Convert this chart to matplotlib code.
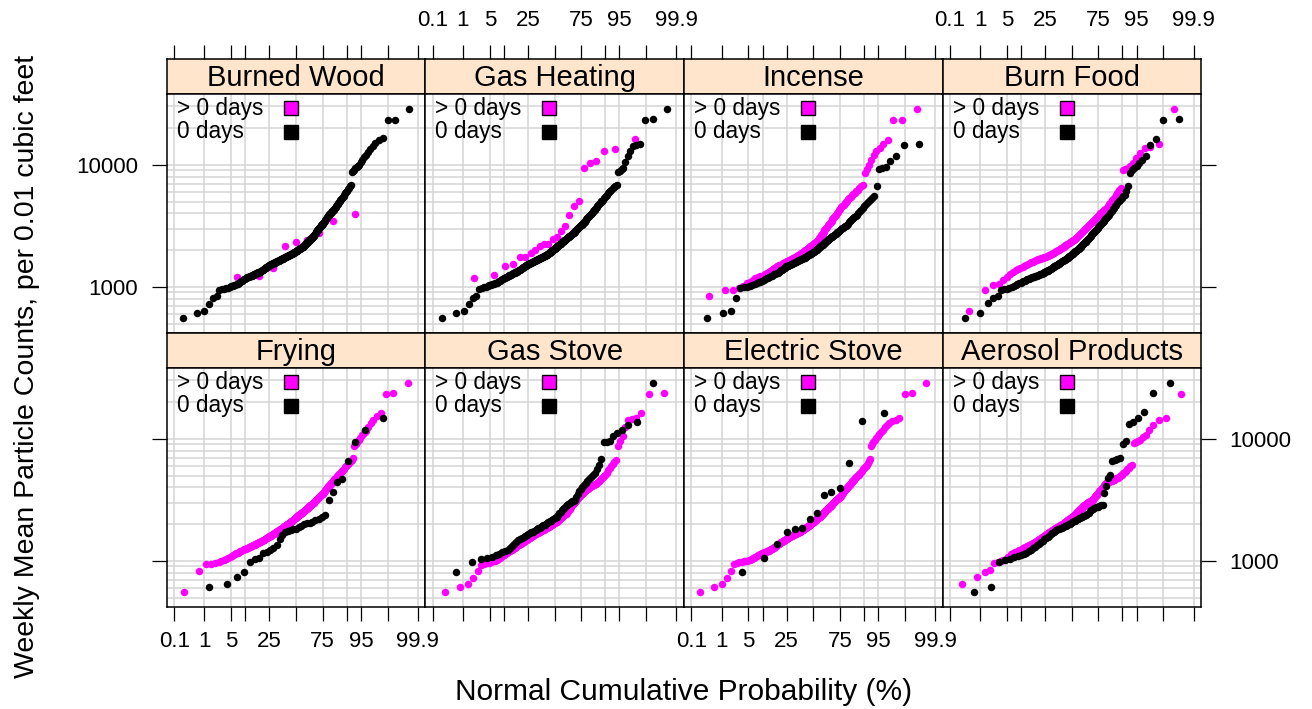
import numpy as np
import matplotlib
matplotlib.use('Agg')
import matplotlib.pyplot as plt
from statistics import NormalDist

plt.rcParams['font.family'] = ['Liberation Sans', 'DejaVu Sans']

# Panel titles (top row first, left to right)
sources = ['Burned Wood', 'Gas Heating', 'Incense', 'Burn Food',
           'Frying', 'Gas Stove', 'Electric Stove', 'Aerosol Products']
group_labels = ['> 0 days', '0 days']

# Probability axis ticks (%)
prob_ticks = [0.1, 1, 5, 10, 25, 50, 75, 90, 95, 99, 99.9]
prob_labels = ['0.1', '1', '5', '', '25', '', '75', '', '95', '', '99.9']

# Weekly mean particle counts, sorted, per source and group
wood_pos = [1200, 1230, 1439, 2168, 2339, 2400, 2754, 3434, 3963]
wood_zero = [561, 616, 640, 726, 807, 844, 944, 955, 965, 975,
             986, 997, 1008, 1019, 1030, 1041, 1052,
             1066, 1080, 1095, 1109, 1123, 1137, 1152, 1166, 1180, 1194,
             1201, 1209, 1216, 1224, 1231, 1239, 1246, 1254, 1261, 1269, 1276, 1284, 1291, 1299, 1306, 1314, 1321, 1329, 1336,
             1346, 1356, 1366, 1376, 1385, 1395, 1405, 1415, 1425, 1435, 1445, 1455, 1465, 1474, 1484, 1494, 1504, 1514,
             1521, 1528, 1534, 1541, 1548, 1555, 1562, 1568, 1575, 1582, 1589, 1596, 1603, 1609, 1616, 1623, 1630, 1637, 1643, 1650, 1657, 1664,
             1671, 1678, 1685, 1692, 1699, 1706, 1713, 1720, 1727, 1734, 1741, 1748, 1755, 1762, 1769, 1776, 1783, 1790, 1797, 1804,
             1811, 1818, 1825, 1832, 1839, 1846, 1853, 1860, 1867, 1874, 1881, 1888,
             1898, 1908, 1917, 1927, 1937, 1947, 1957, 1966, 1976, 1986, 1996, 2005, 2015, 2025, 2035, 2045, 2054, 2064, 2074, 2084,
             2093, 2103, 2113, 2123, 2132, 2142,
             2161, 2179, 2198, 2216, 2235, 2254, 2272, 2291, 2310, 2328, 2347, 2365, 2384, 2403, 2421, 2440, 2458, 2477, 2496, 2514,
             2533, 2551, 2570, 2588,
             2623, 2658, 2693, 2728, 2763, 2798, 2834, 2869, 2904, 2939, 2974, 3009, 3044, 3080, 3115, 3150, 3185, 3220, 3255, 3291, 3326,
             3376, 3426, 3476, 3526, 3576, 3626, 3676, 3726, 3776, 3826, 3876, 3926, 3976, 4026, 4076, 4126, 4176, 4226, 4276,
             4363, 4450, 4538, 4625, 4712, 4800, 4887, 4974, 5061, 5149, 5236, 5323, 5411, 5498,
             5661, 5824, 5987, 6150, 6312, 6475, 6638, 6850,
             8650, 8880, 9100, 9330, 9550, 9780, 10000,
             10520, 11040, 11560, 12080, 12760, 13450, 14130, 15080, 16020, 16500,
             23080, 23300, 28780]

heat_pos = [1193, 1247, 1469, 1545, 1750, 1750, 1888, 2010, 2168, 2250, 2250, 2459,
            2553, 2843, 3125, 3890, 4613, 5010, 9390, 10320, 10650, 13030, 13530, 16230]
heat_zero = [561, 616, 640, 726, 807, 844, 957, 974, 990, 1007,
             1018, 1030, 1041, 1052, 1063, 1075, 1086,
             1099, 1112, 1125, 1138, 1151, 1164, 1177, 1190, 1203, 1216,
             1225, 1234, 1244, 1253, 1262, 1271, 1280, 1290, 1299, 1308, 1317, 1327, 1336,
             1346, 1357, 1367, 1378, 1388, 1399, 1409, 1420, 1430, 1441, 1451, 1462, 1472, 1483, 1493, 1504, 1514,
             1522, 1529, 1537, 1544, 1552, 1559, 1567, 1574, 1582, 1589, 1597, 1604, 1612, 1619, 1627, 1634, 1642, 1649, 1657, 1664,
             1671, 1679, 1686, 1694, 1701, 1709, 1716, 1724, 1731, 1738, 1746, 1753, 1761, 1768, 1776, 1783, 1791, 1798, 1806, 1813,
             1820, 1828,
             1839, 1850, 1862, 1873, 1885, 1896, 1908, 1919, 1930, 1942, 1953, 1965, 1976, 1987, 1999, 2010,
             2025, 2040, 2055, 2070, 2085, 2100, 2115, 2130, 2145, 2160, 2175, 2190, 2205, 2220, 2235, 2250, 2265, 2280, 2295, 2310,
             2325, 2340, 2354,
             2371, 2389, 2406, 2424, 2441, 2458, 2476, 2493, 2511, 2528, 2545, 2563, 2580, 2598, 2615, 2632, 2650, 2667, 2685, 2702,
             2719, 2737, 2754,
             2783, 2811, 2840, 2869, 2897, 2926, 2954, 2983, 3012, 3040, 3069, 3097, 3126, 3155, 3183, 3212, 3240, 3269, 3297, 3326,
             3377, 3428, 3479, 3530, 3581, 3632, 3683, 3734, 3785, 3836, 3887, 3938, 3989, 4040, 4091, 4143,
             4222, 4300, 4379, 4458, 4536, 4615, 4694, 4773, 4851, 4930, 5009, 5087, 5166,
             5300, 5435, 5569, 5703, 5837, 5972, 6106, 6240,
             6394, 6548, 6701, 6855,
             8650, 8900, 9150, 9390, 10500, 11700, 12900, 14130, 14500, 14860, 23370, 23640, 28600]

incense_pos = [838, 939, 945, 975, 1020, 1072, 1107, 1143, 1178,
               1197, 1217, 1236, 1255, 1275, 1294,
               1319, 1344, 1369, 1394, 1419, 1444, 1469,
               1487, 1505, 1523, 1541, 1560, 1578, 1596, 1614,
               1629, 1643, 1658, 1672, 1687, 1701, 1716, 1730, 1745, 1759, 1774,
               1795, 1817, 1838, 1860, 1881, 1903, 1924, 1946, 1967, 1989, 2010,
               2036, 2063, 2089, 2116, 2142, 2169, 2195, 2222, 2248, 2275, 2301, 2328, 2354,
               2411, 2468, 2525, 2583, 2640, 2697, 2754,
               2826, 2897, 2969, 3040, 3112, 3183, 3255, 3326,
               3407, 3487, 3568, 3648, 3729, 3809, 3890,
               4006, 4121, 4237, 4353, 4469, 4584, 4700,
               4826, 4952, 5078, 5204, 5330,
               5472, 5614, 5756, 5898, 6040,
               6244, 6448, 6651, 6855,
               8550, 9300, 10000, 11040, 12080, 12890, 13700, 14860, 16020,
               23080, 23370, 28600]
incense_zero = [561, 616, 640, 807, 975, 991, 1007,
                1023, 1040, 1056, 1072,
                1090, 1107, 1125, 1143, 1160, 1178,
                1192, 1207, 1221, 1236, 1250, 1265, 1279, 1294,
                1311, 1329, 1346, 1364, 1381, 1399, 1416, 1434, 1451, 1469,
                1481, 1493, 1505, 1517, 1529, 1542, 1554, 1566, 1578, 1590, 1602, 1614,
                1625, 1637, 1648, 1660, 1671, 1683, 1694, 1706, 1717, 1728, 1740, 1751, 1763, 1774,
                1791, 1808, 1825, 1842, 1858, 1875, 1892, 1909, 1926, 1943, 1960, 1976, 1993, 2010,
                2036, 2063, 2089, 2116, 2142, 2169, 2195, 2222, 2248, 2275, 2301, 2328, 2354,
                2385, 2416, 2446, 2477, 2508, 2539, 2569, 2600, 2631, 2662, 2692, 2723, 2754,
                2797, 2839, 2882, 2924, 2967, 3010, 3052, 3095, 3137, 3180, 3222,
                3296, 3370, 3445, 3519, 3593, 3667, 3742, 3816, 3890,
                4023, 4155, 4288, 4420, 4553,
                4742, 4931, 5120, 5309, 5498,
                6638, 9300, 9400, 9500, 10650, 11700, 14590, 14860]

food_pos = [640, 944, 1038, 1060, 1140, 1216, 1270, 1324, 1378,
            1405, 1432, 1460, 1487, 1514,
            1539, 1564, 1589, 1614, 1639, 1664,
            1676, 1688, 1701, 1713, 1725, 1737, 1750, 1762, 1774,
            1793, 1813, 1832, 1852, 1871, 1891, 1910, 1930, 1949,
            1973, 1997, 2020, 2044, 2068, 2092, 2115, 2139, 2163, 2186, 2210,
            2237, 2264, 2291, 2318, 2345, 2372, 2399, 2425, 2452, 2479, 2506,
            2558, 2610, 2662, 2714, 2767, 2819, 2871, 2923, 2975, 3027,
            3090, 3153, 3216, 3278, 3341, 3404, 3467, 3529, 3592, 3655,
            3739, 3824, 3908, 3993, 4077, 4162, 4246, 4331, 4415,
            4598, 4781, 4964, 5147, 5330,
            5607, 5885, 6162, 6440,
            9000, 9200, 9390, 9850, 10320, 11400, 12500, 13700, 13950, 14860, 28600]
food_zero = [553, 616, 735, 807, 844, 944, 954, 965, 975,
             994, 1014, 1033, 1053, 1072,
             1085, 1099, 1112, 1125, 1138, 1152, 1165, 1178,
             1186, 1195, 1203, 1212, 1220, 1229, 1237, 1246, 1254,
             1264, 1275, 1285, 1295, 1306, 1316, 1326, 1337, 1347, 1357, 1368, 1378,
             1391, 1404, 1418, 1431, 1444, 1457, 1470, 1484, 1497, 1510, 1523, 1536, 1550, 1563,
             1577, 1591, 1605, 1619, 1633, 1647, 1661, 1676, 1690, 1704, 1718, 1732, 1746, 1760, 1774,
             1794, 1814, 1834, 1854, 1874, 1894, 1914, 1935, 1955, 1975, 1995, 2015, 2035, 2055, 2075,
             2106, 2137, 2167, 2198, 2229, 2260, 2291, 2321, 2352, 2383, 2414, 2444, 2475, 2506,
             2554, 2601, 2649, 2696, 2744, 2792, 2839, 2887, 2935, 2982, 3030, 3077, 3125,
             3195, 3264, 3334, 3403, 3473, 3542, 3612, 3681, 3751, 3820, 3890,
             4028, 4165, 4303, 4440, 4578, 4715, 4853,
             5017, 5182, 5346, 5511, 5675, 6100, 6640,
             8550, 9000, 9390, 9850, 10320, 11000, 11700, 14590, 16230, 23370, 23670]

fry_pos = [553, 833, 939, 950, 967, 984, 1002, 1019,
           1039, 1059, 1080, 1100, 1120,
           1136, 1151, 1167, 1183, 1199, 1214, 1230,
           1240, 1250, 1260, 1271, 1281, 1291, 1301, 1311, 1321, 1332, 1342, 1352,
           1362, 1371, 1381, 1390, 1400, 1409, 1419, 1429, 1438, 1448, 1457, 1467, 1476, 1486,
           1496, 1507, 1517, 1528, 1538, 1549, 1559, 1570, 1580, 1591, 1601, 1612, 1622, 1633, 1643, 1654, 1664,
           1675, 1685, 1696, 1707, 1717, 1728, 1739, 1749, 1760, 1771, 1781, 1792, 1803, 1813, 1824, 1835, 1845,
           1856, 1867, 1877, 1888,
           1901, 1915, 1928, 1941, 1955, 1968, 1981, 1995, 2008, 2021, 2035, 2048, 2061, 2075, 2088, 2101, 2115,
           2128, 2141, 2155, 2168,
           2184, 2200, 2216, 2232, 2248, 2264, 2280, 2296, 2312, 2328, 2344, 2360, 2376, 2392, 2408, 2424, 2440,
           2456, 2471, 2487, 2503, 2519, 2535,
           2556, 2577, 2597, 2618, 2639, 2660, 2681, 2701, 2722, 2743, 2764, 2785, 2806, 2826, 2847, 2868, 2889,
           2910, 2930, 2951, 2972,
           3004, 3037, 3069, 3102, 3134, 3167, 3199, 3232, 3264, 3297, 3329, 3362, 3394, 3427, 3459, 3492, 3524,
           3557, 3589,
           3644, 3699, 3754, 3809, 3864, 3919, 3974, 4030, 4085, 4140, 4195, 4250, 4305, 4360, 4415, 4470,
           4555, 4639, 4724, 4808, 4893, 4978, 5062, 5147, 5231, 5316, 5401, 5485, 5570,
           5706, 5841, 5977, 6113, 6249, 6384, 6520, 6730, 6950,
           8650, 9040, 9430, 9816, 10230, 10650, 11070, 11490, 12460, 13430, 14350, 15290, 16230,
           23230, 23640, 28600]
fry_zero = [616, 644, 735, 807, 988, 1032, 1064, 1170, 1193, 1230,
            1270, 1352, 1506, 1633, 1718, 1750, 1774, 1820, 1841, 1910,
            1936, 2000, 2037, 2062, 2100, 2168, 2210, 2280, 2382, 3125,
            3631, 4385, 4700, 6520, 9390, 11700, 14690]

gstove_pos = [553, 616, 644, 721, 833, 927, 942, 957,
              969, 982, 994, 1007, 1019,
              1039, 1058, 1078, 1097, 1117, 1136, 1156,
              1171, 1187, 1202, 1218, 1233, 1248, 1264, 1279, 1295, 1310,
              1324, 1337, 1351, 1364, 1378, 1391, 1405, 1418, 1432, 1445, 1459, 1472, 1486,
              1499, 1513, 1526, 1539, 1553, 1566, 1579, 1593, 1606, 1619, 1633, 1646, 1659, 1673, 1686,
              1696, 1706, 1715, 1725, 1735, 1745, 1754, 1764, 1774, 1784, 1793, 1803, 1813, 1823, 1832, 1842, 1852,
              1866, 1880, 1893, 1907, 1921, 1935, 1948, 1962, 1976, 1990, 2004, 2017, 2031, 2045, 2059, 2072, 2086, 2100,
              2120, 2140, 2160, 2180, 2200, 2220, 2240, 2260, 2280, 2299, 2319, 2339, 2359, 2379, 2399, 2419, 2439, 2459,
              2503, 2547, 2591, 2635, 2679, 2723, 2767, 2811, 2854, 2898, 2942, 2986, 3030, 3074, 3118, 3162,
              3209, 3256, 3303, 3350, 3397, 3444, 3491, 3537, 3584, 3631, 3678, 3725, 3772, 3819,
              3862, 3905, 3948, 3991, 4034, 4077, 4120, 4163, 4206, 4249, 4292, 4335,
              4427, 4519, 4611, 4703, 4795, 4886, 4978, 5070,
              5285, 5500, 5715, 5930, 6200, 6465, 6730,
              8650, 9600, 10450, 12400, 14320, 14500, 14770, 16230, 23370, 23640]
gstove_zero = [807, 988, 1038, 1051, 1085, 1120, 1148, 1175, 1203, 1230,
               1282, 1335, 1387, 1439, 1471, 1504, 1536, 1568, 1601, 1633,
               1660, 1686, 1713, 1740, 1766, 1793, 1820,
               1847, 1874, 1901, 1928, 1956, 1983, 2010, 2037,
               2071, 2105, 2139, 2173, 2206, 2240, 2274, 2308,
               2379, 2450, 2521, 2592, 2663, 2735, 2806, 2877,
               2925, 2972, 3020, 3067, 3115, 3162, 3341, 3521, 3700,
               3854, 4008, 4162, 4316, 4470, 4662, 4853, 5045, 5236,
               5678, 6120, 6815, 9390, 9450, 9500, 10590, 11200, 11850,
               13030, 13610, 28600]

estove_pos = [553, 616, 644, 730, 833, 939, 957, 975,
              982, 990, 997, 1004, 1012, 1019,
              1034, 1050, 1065, 1080, 1095, 1111, 1126, 1141,
              1148, 1156, 1163, 1171, 1178, 1185, 1193, 1200, 1208, 1215, 1222, 1230,
              1241, 1252, 1263, 1274, 1285, 1296, 1307, 1318, 1330, 1341, 1352, 1363, 1374, 1385, 1396,
              1406, 1416, 1425, 1435, 1445, 1455, 1464, 1474, 1484, 1494, 1504, 1513, 1523, 1533, 1543, 1553, 1562,
              1572, 1582,
              1589, 1596, 1602, 1609, 1616, 1623, 1630, 1636, 1643, 1650, 1657, 1664, 1670, 1677, 1684, 1691, 1697,
              1704, 1711, 1718, 1725, 1731, 1738,
              1748, 1757, 1767, 1777, 1787, 1796, 1806, 1816, 1826, 1835, 1845, 1855, 1865, 1874, 1884, 1894, 1904,
              1913, 1923, 1933, 1943, 1952, 1962, 1972,
              1985, 1999, 2012, 2026, 2039, 2053, 2066, 2080, 2093, 2106, 2120, 2133, 2147, 2160, 2174, 2187, 2201,
              2214, 2227, 2241, 2254, 2268, 2281, 2295, 2308,
              2329, 2350, 2370, 2391, 2412, 2433, 2454, 2474, 2495, 2516, 2537, 2558, 2578, 2599, 2620, 2641, 2662,
              2682, 2703, 2724, 2745, 2766, 2786,
              2812, 2839, 2865, 2892, 2918, 2944, 2971, 2997, 3024, 3050, 3076, 3103, 3129, 3156, 3182, 3208, 3235,
              3261, 3288, 3314, 3340, 3366,
              3415, 3464, 3513, 3562, 3611, 3660, 3709, 3758, 3807, 3856, 3905, 3953, 4002, 4051, 4100, 4149, 4198,
              4267, 4336, 4405, 4475, 4544, 4613, 4682, 4751, 4821, 4890, 4959, 5028, 5097, 5167, 5236,
              5362, 5489, 5615, 5741, 5867, 5994, 6120, 6352, 6583, 6815,
              8650, 9020, 9390, 9760, 10130, 10560, 10990, 11420, 11850, 12380, 12900, 13430,
              13880, 14320, 14770, 23370, 23640, 28600]
estove_zero = [807, 1064, 1370, 1738, 1820, 1875, 2196, 2490, 3475, 3680,
               3940, 6320, 14060, 16230]

aerosol_pos = [644, 735, 818, 844, 957, 978, 998, 1019,
               1046, 1074, 1101, 1129, 1156,
               1172, 1189, 1205, 1221, 1237, 1254, 1270,
               1283, 1295, 1308, 1320, 1333, 1346, 1358, 1371, 1383, 1396,
               1410, 1425, 1439, 1453, 1468, 1482, 1496, 1510, 1525, 1539, 1553, 1568, 1582,
               1596, 1610, 1624, 1639, 1653, 1667, 1681, 1696, 1710, 1724, 1738, 1752, 1767, 1781, 1795,
               1807, 1819, 1831, 1843, 1855, 1867, 1879, 1891, 1904, 1916, 1928, 1940, 1952, 1964, 1976, 1988, 2000,
               2016, 2032, 2049, 2065, 2081, 2097, 2113, 2130, 2146, 2162, 2178, 2194, 2211, 2227, 2243, 2259, 2275,
               2292, 2308,
               2335, 2361, 2388, 2414, 2441, 2467, 2494, 2520, 2547, 2574, 2600, 2627, 2653, 2680, 2706, 2733, 2759, 2786,
               2808, 2830, 2852, 2874, 2896, 2919, 2941, 2963, 2985, 3007, 3029, 3051, 3074, 3096, 3118, 3140, 3162,
               3216, 3270, 3324, 3377, 3431, 3485, 3539, 3593, 3646, 3700,
               3771, 3841, 3912, 3982, 4053, 4124, 4194, 4265, 4335,
               4363, 4391, 4418, 4446, 4474, 4502, 4530, 4557, 4585, 4613,
               4678, 4744, 4809, 4874, 4940, 5005, 5070,
               5206, 5342, 5478, 5614, 5750, 5935, 6120,
               9215, 9415, 9615, 9816, 10300, 10790, 11850, 12990, 14130, 14770, 23370]
aerosol_zero = [553, 616, 975, 1019, 1045, 1072, 1093, 1114, 1135, 1156,
                1195, 1233, 1272, 1310, 1348, 1385, 1423, 1460, 1498, 1535,
                1572, 1609, 1646, 1684, 1721, 1758, 1795,
                1815, 1835, 1855, 1876, 1896, 1916, 1936,
                1965, 1994, 2023, 2052, 2081, 2110, 2139, 2168,
                2199, 2229, 2260, 2290, 2321, 2351, 2382,
                2436, 2489, 2543, 2596, 2650, 2703, 2738, 2773, 2807, 2842, 2877,
                3589, 4120, 4800, 5070, 6520, 6700, 6850, 6950, 9040, 9600,
                13180, 13800, 14770, 16430, 23670, 28600]

pos_data = [wood_pos, heat_pos, incense_pos, food_pos,
            fry_pos, gstove_pos, estove_pos, aerosol_pos]
zero_data = [wood_zero, heat_zero, incense_zero, food_zero,
             fry_zero, gstove_zero, estove_zero, aerosol_zero]

nd = NormalDist()


def qq_x(vals):
    # normal quantiles of the plotting positions (like R's ppoints)
    n = len(vals)
    a = 3 / 8 if n <= 10 else 0.5
    p = (np.arange(1, n + 1) - a) / (n + 1 - 2 * a)
    return np.array([nd.inv_cdf(q) for q in p])


tick_x = [nd.inv_cdf(p / 100) for p in prob_ticks]

# shared limits, padded 7% like lattice
all_x = np.concatenate([qq_x(v) for v in pos_data + zero_data])
all_y = np.log10(np.concatenate([np.array(v, float) for v in pos_data + zero_data]))
xpad = 0.07 * (all_x.max() - all_x.min())
ypad = 0.07 * (all_y.max() - all_y.min())
xlim = (all_x.min() - xpad, all_x.max() + xpad)
ylim = (10 ** (all_y.min() - ypad), 10 ** (all_y.max() + ypad))

grid_y = [v * 10 ** k for k in (2, 3, 4) for v in range(1, 10)]

magenta = '#FF00FF'
grid_col = '#d4d4d4'
strip_col = '#FFE5CC'

W, H = 1312, 709
x0, pw, sh, ph = 166.7, 258.6, 35, 239
row_top = [59, 333]

fig = plt.figure(figsize=(W / 100, H / 100), dpi=100)

for i, name in enumerate(sources):
    r, c = divmod(i, 4)
    left = (x0 + c * pw) / W
    top = row_top[r]
    sax = fig.add_axes([left, 1 - (top + sh) / H, pw / W, sh / H])
    ax = fig.add_axes([left, 1 - (top + sh + ph) / H, pw / W, ph / H])

    # strip
    sax.set_facecolor(strip_col)
    sax.set_xlim(xlim)
    sax.set_yticks([])
    sax.text(0.5, 0.47, name, ha='center', va='center', fontsize=21, transform=sax.transAxes)
    if r == 0:
        sax.set_xticks(tick_x)
        sax.set_xticklabels(prob_labels)
        sax.tick_params(axis='x', top=True, bottom=False, labeltop=(c in (1, 3)),
                        labelbottom=False, length=10, width=0.9, pad=10, labelsize=16)
    else:
        sax.set_xticks([])
    for s in sax.spines.values():
        s.set_linewidth(1.1)

    # panel
    ax.set_xlim(xlim)
    ax.set_yscale('log')
    ax.set_ylim(ylim)
    for gx in tick_x:
        ax.axvline(gx, color=grid_col, lw=1.1, zorder=0)
    for gy in grid_y:
        ax.axhline(gy, color=grid_col, lw=1.1, zorder=0)

    ax.plot(qq_x(pos_data[i]), pos_data[i], 'o', ms=5.4, color=magenta, mec='none', zorder=2)
    ax.plot(qq_x(zero_data[i]), zero_data[i], 'o', ms=5.4, color='black', mec='none', zorder=3)

    ax.set_xticks(tick_x)
    ax.set_xticklabels(prob_labels)
    ax.tick_params(axis='x', bottom=(r == 1), top=False, labelbottom=(r == 1 and c in (0, 2)),
                   length=10, width=0.9, pad=7, labelsize=16)
    ax.set_yticks([1000, 10000])
    ax.set_yticklabels(['1000', '10000'])
    ax.yaxis.set_minor_locator(plt.NullLocator())
    ax.tick_params(axis='y', left=(c == 0), right=(c == 3),
                   labelleft=(c == 0 and r == 0), labelright=(c == 3 and r == 1),
                   length=10.5, width=0.9, pad=10, labelsize=16)
    for s in ax.spines.values():
        s.set_linewidth(1.1)

    # key
    ax.text(0.039, 0.941, group_labels[0], transform=ax.transAxes, va='center', fontsize=16.3)
    ax.text(0.039, 0.843, group_labels[1], transform=ax.transAxes, va='center', fontsize=16.3)
    ax.plot([0.48], [0.941], 's', ms=10.5, mfc=magenta, mec='black', mew=1,
            transform=ax.transAxes, clip_on=False, zorder=5)
    ax.plot([0.48], [0.843], 's', ms=10.5, mfc='black', mec='black', mew=1,
            transform=ax.transAxes, clip_on=False, zorder=5)

fig.text(27 / W, 1 - 366 / H, 'Weekly Mean Particle Counts, per 0.01 cubic feet',
         rotation=90, ha='center', va='center', fontsize=20.5)
fig.text(684 / W, 1 - 692 / H, 'Normal Cumulative Probability (%)',
         ha='center', va='center', fontsize=21.5)

fig.savefig('out.png', dpi=100)
